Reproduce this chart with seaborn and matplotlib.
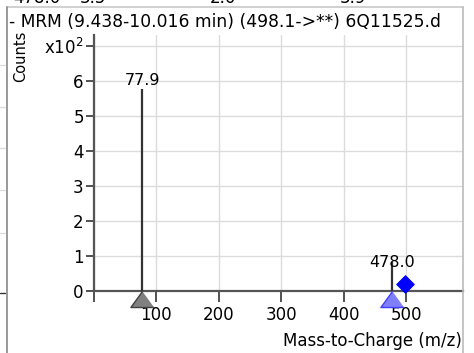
"""
MRM product-ion spectrum (stick plot) in MassHunter style
"""
import numpy as np
import pandas as pd
import matplotlib
matplotlib.use('Agg')
import matplotlib.pyplot as plt
from matplotlib.lines import Line2D
import seaborn as sns

TITLE = '- MRM (9.438-10.016 min) (498.1->**) 6Q11525.d'

# product ions (m/z) and their heights in units of x10^2 counts
ion_mz = [77.9, 478.0]
ion_counts = [5.75, 0.84]
ion_kind = ['other', 'matched']

# precursor marker
precursor_mz = [498.1]
precursor_counts = [0.2]

x_ticks = [0, 100, 200, 300, 400, 500]
x_tick_labels = ['', '100', '200', '300', '400', '500']
y_ticks = [0, 1, 2, 3, 4, 5, 6, 7]
y_tick_labels = ['0', '1', '2', '3', '4', '5', '6', r'x10$^{2}$']

# bits of the neighbouring panel that show in the screenshot
top_fragments = ['478.0', '3.5', '2.0', '3.9']

W, H = 474, 353


def px(x, y):
    return x / W, 1 - y / H


sns.set_style('white')
plt.rcParams['font.family'] = ['DejaVu Sans']
plt.rcParams['font.size'] = 12
plt.rcParams['text.color'] = 'black'
plt.rcParams['xtick.color'] = 'black'
plt.rcParams['ytick.color'] = 'black'

fig = plt.figure(figsize=(W / 100, H / 100), dpi=100)
left, bottom = px(93.5, 291)
right, top = px(463, 35)
ax = fig.add_axes([left, bottom, right - left, top - bottom])

ax.set_xlim(0, 591)
ax.set_ylim(0, 7.30)

ax.set_xticks(x_ticks)
ax.set_xticklabels(x_tick_labels)
ax.set_yticks(y_ticks)
ax.set_yticklabels(y_tick_labels)
ax.grid(True, color='#dcdcdc', lw=1)
ax.set_axisbelow(True)

for side in ['top', 'right']:
    ax.spines[side].set_visible(False)
for side in ['left', 'bottom']:
    ax.spines[side].set_color('#555555')
    ax.spines[side].set_linewidth(1.6)

ax.tick_params(axis='x', direction='out', length=8, width=1.2, color='#333333',
               labelcolor='black', pad=3, labelsize=12, bottom=True)
ax.tick_params(axis='y', direction='out', length=6, width=1.2, color='#333333',
               labelcolor='black', pad=1, labelsize=12, left=True)

# sticks
ax.vlines(ion_mz, 0, ion_counts, color='#333333', lw=1.6, zorder=3)
label_offsets = [0.03, -0.24]
for m, c, off in zip(ion_mz, ion_counts, label_offsets):
    ax.text(m, c + off, f'{m:.1f}', ha='center', va='bottom', fontsize=11.5,
            color='black', zorder=4)

# markers under the axis
df = pd.DataFrame({'mz': ion_mz, 'kind': ion_kind})
df['y'] = -0.23
tri = [(0, 0.69), (-1, -0.69), (1, -0.69)]
styles = {'other': ('#808080', '#404040'), 'matched': ('#8080ff', '#4040ff')}
for kind, (fc, ec) in styles.items():
    sub = df[df['kind'] == kind]
    sns.scatterplot(data=sub, x='mz', y='y', marker=tri, s=280, color=fc,
                    edgecolor=ec, linewidth=1, ax=ax, clip_on=False, zorder=5,
                    legend=False)

prec = pd.DataFrame({'mz': precursor_mz, 'y': precursor_counts})
sns.scatterplot(data=prec, x='mz', y='y', marker='D', s=80, color='#0000ff',
                edgecolor='#0000ff', ax=ax, clip_on=False, zorder=5, legend=False)

ax.set_xlabel('')
ax.set_ylabel('')

# texts around the plot
fig.text(*px(9, 27), TITLE, ha='left', va='baseline', fontsize=12.3)
fig.text(*px(21, 56), 'Counts', rotation=90, ha='center', va='center', fontsize=10.5)
fig.text(*px(462, 341), 'Mass-to-Charge (m/z)', ha='right', va='center', fontsize=12)

for label, xpos in zip(top_fragments, [13, 80, 210, 340]):
    fig.text(*px(xpos, 3), label, ha='left', va='baseline', fontsize=12)

# panel frame
frame = dict(transform=fig.transFigure, lw=1.2)
fig.add_artist(Line2D([px(7, 0)[0], px(463, 0)[0]], [px(0, 7)[1]] * 2, color='#c8c8c8', **frame))
fig.add_artist(Line2D([px(463, 0)[0]] * 2, [px(0, 7)[1], 0], color='#bbbbbb', **frame))
fig.add_artist(Line2D([px(7, 0)[0]] * 2, [px(0, 7)[1], 0], color='#888888', **frame))

# left neighbour panel fragments
for yy in [65, 107, 148, 190, 233]:
    fig.add_artist(Line2D([0, px(5, 0)[0]], [px(0, yy)[1]] * 2, color='#dcdcdc',
                          transform=fig.transFigure, lw=1))
fig.add_artist(Line2D([0, px(5, 0)[0]], [px(0, 293)[1]] * 2, color='#333333',
                      transform=fig.transFigure, lw=1))

fig.savefig('out.png', dpi=100)
